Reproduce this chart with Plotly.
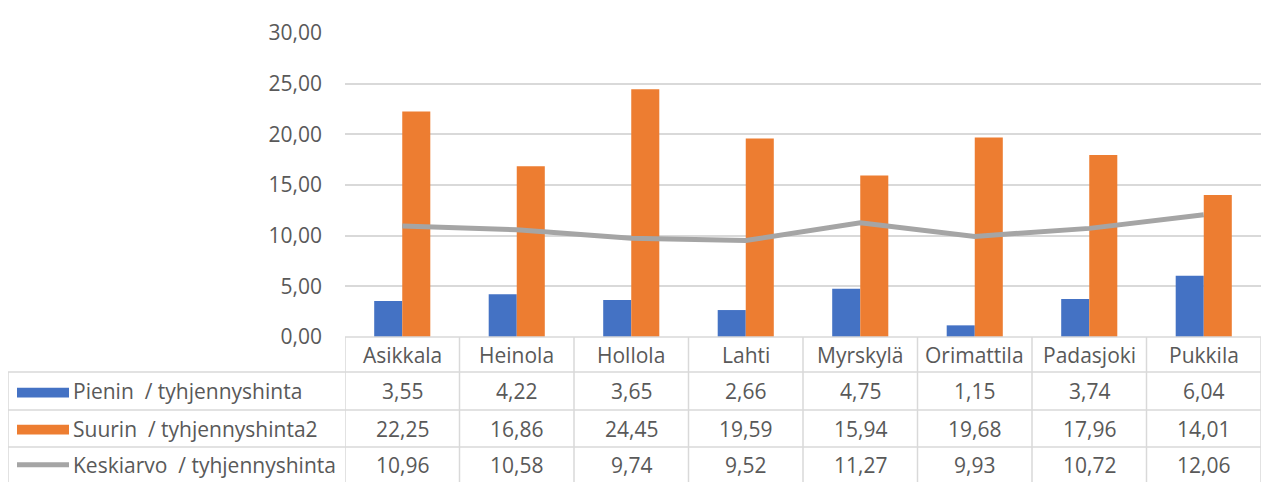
import plotly.graph_objects as go

categories = ["Asikkala", "Heinola", "Hollola", "Lahti", "Myrskylä", "Orimattila", "Padasjoki", "Pukkila"]
pienin = [3.55, 4.22, 3.65, 2.66, 4.75, 1.15, 3.74, 6.04]
suurin = [22.25, 16.86, 24.45, 19.59, 15.94, 19.68, 17.96, 14.01]
keskiarvo = [10.96, 10.58, 9.74, 9.52, 11.27, 9.93, 10.72, 12.06]
series_names = ["Pienin  / tyhjennyshinta", "Suurin  / tyhjennyshinta2", "Keskiarvo  / tyhjennyshinta"]
y_ticks = [0, 5, 10, 15, 20, 25, 30]

BLUE = "#4472C4"
ORANGE = "#ED7D31"
GRAY = "#A5A5A5"
TEXT = "#595959"
GRID = "#D9D9D9"
FONT = "Open Sans"
FS = 21

OFF = 8  # page body margin
W, H = 1271 - OFF, 482 - OFF
ML, MR, MT, MB = 345 - OFF, 10, 25 - OFF, 145
PW = W - ML - MR
PH = H - MT - MB

def py(px):
    return (H - MB - (px - OFF)) / PH

def pxx(px):
    return ((px - OFF) - ML) / PW

fig = go.Figure()
fig.add_trace(go.Bar(x=categories, y=pienin, name=series_names[0], marker_color=BLUE, marker_line_width=0))
fig.add_trace(go.Bar(x=categories, y=suurin, name=series_names[1], marker_color=ORANGE, marker_line_width=0))
fig.add_trace(go.Scatter(x=categories, y=keskiarvo, name=series_names[2], mode="lines",
                         line=dict(color=GRAY, width=5)))

shapes = []
annotations = []
n = len(categories)
shapes.append(dict(type="line", xref="paper", yref="paper", x0=0, x1=1, y0=py(337), y1=py(337),
                   line=dict(color=GRID, width=1.5)))
for yy in [373, 412, 450]:
    shapes.append(dict(type="line", xref="paper", yref="paper", x0=pxx(8), x1=1, y0=py(yy), y1=py(yy),
                       line=dict(color=GRID, width=1.5)))
for i in range(n + 1):
    shapes.append(dict(type="line", xref="x", yref="paper", x0=i - 0.5, x1=i - 0.5, y0=py(337), y1=py(490),
                       line=dict(color=GRID, width=1.5)))
shapes.append(dict(type="line", xref="paper", yref="paper", x0=pxx(8), x1=pxx(8), y0=py(373), y1=py(490),
                   line=dict(color=GRID, width=1.5)))

shapes.append(dict(type="rect", xref="paper", yref="paper", x0=pxx(17), x1=pxx(69), y0=py(399), y1=py(389),
                   fillcolor=BLUE, line=dict(width=0)))
shapes.append(dict(type="rect", xref="paper", yref="paper", x0=pxx(17), x1=pxx(69), y0=py(437), y1=py(427),
                   fillcolor=ORANGE, line=dict(width=0)))
shapes.append(dict(type="line", xref="paper", yref="paper", x0=pxx(17), x1=pxx(69), y0=py(468), y1=py(468),
                   line=dict(color=GRAY, width=5)))

def fmt(v):
    return f"{v:.2f}".replace(".", ",")

for c in categories:
    annotations.append(dict(x=c, xref="x", yref="paper", y=py(355), text=c, showarrow=False,
                            font=dict(family=FONT, size=FS, color=TEXT), xanchor="center", yanchor="middle"))
rows = [pienin, suurin, keskiarvo]
row_centers = [392, 431, 468]
for r, (vals, yc) in enumerate(zip(rows, row_centers)):
    annotations.append(dict(x=pxx(71), xref="paper", yref="paper", y=py(yc), text=series_names[r],
                            showarrow=False, font=dict(family=FONT, size=FS, color=TEXT),
                            xanchor="left", yanchor="middle"))
    for c, v in zip(categories, vals):
        annotations.append(dict(x=c, xref="x", yref="paper", y=py(yc), text=fmt(v), showarrow=False,
                                font=dict(family=FONT, size=FS, color=TEXT), xanchor="center", yanchor="middle"))

fig.update_layout(
    width=W, height=H,
    margin=dict(l=ML, r=MR, t=MT, b=MB),
    plot_bgcolor="white", paper_bgcolor="white",
    barmode="group", bargap=0.51, bargroupgap=0,
    showlegend=False,
    separators=",.",
    shapes=shapes, annotations=annotations,
    xaxis=dict(type="category", showticklabels=False, showgrid=False, zeroline=False, showline=False,
               range=[-0.5, n - 0.5]),
    yaxis=dict(range=[0, 30], tickvals=y_ticks, tickformat=".2f", showgrid=True, gridcolor=GRID, gridwidth=1.5,
               zeroline=False, showline=False, ticks="", ticklabelstandoff=22,
               tickfont=dict(family=FONT, size=FS, color=TEXT)),
)

fig.write_html("out.html")
